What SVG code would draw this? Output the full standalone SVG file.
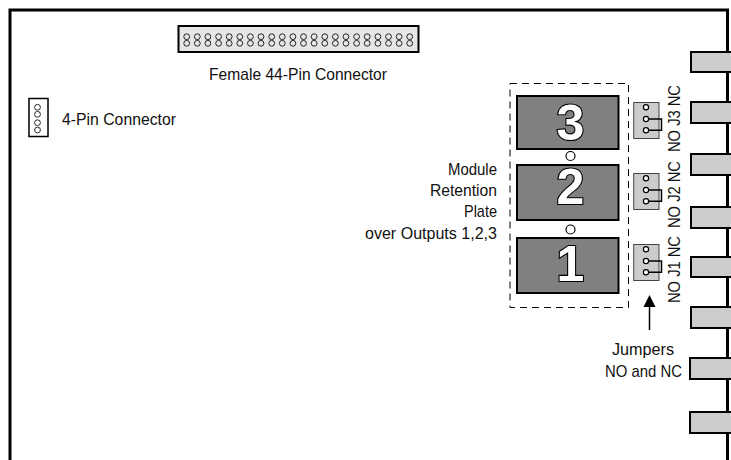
<svg xmlns="http://www.w3.org/2000/svg" width="731" height="460" viewBox="0 0 731 460">
<style>
text{font-family:"Liberation Sans",Arial,sans-serif;font-size:17px;fill:#111}
.tab{fill:#ccc;stroke:#000;stroke-width:2}
.pin{fill:#fff;stroke:#111;stroke-width:.9}
.pin2{fill:#e6e6e6;stroke:#111;stroke-width:.9}
.rel{fill:#808080;stroke:#000;stroke-width:2}
text.num{font-weight:bold;font-size:50px;fill:#fff;stroke:#000;stroke-width:2.2;paint-order:stroke;text-anchor:middle}
.jb{fill:#ccc;stroke:#444;stroke-width:1}
.jw{fill:none;stroke:#000;stroke-width:1.5}
.hole{fill:#fff;stroke:#000;stroke-width:1.2}
</style>
<defs>
<g id="col"><circle class="pin2" cx="0" cy="0" r="2.9"/><circle class="pin2" cx="0" cy="6.6" r="2.9"/></g>
<g id="jump"><rect class="jb" x="633.7" y="102.5" width="25.3" height="36"/><path class="jw" d="M646 119H661.5V130.3H646"/><circle class="hole" cx="646" cy="107.3" r="2.6"/><circle class="hole" cx="646" cy="119" r="2.6"/><circle class="hole" cx="646" cy="130.3" r="2.6"/></g>
</defs>
<rect width="731" height="460" fill="#fff"/>
<g id="board"><path d="M10 460V10H727.5V460" fill="none" stroke="#000" stroke-width="3"/></g>
<g id="tabs">
<path class="tab" d="M732 52H691V72H732Z"/>
<path class="tab" d="M732 102H691V123H732Z"/>
<path class="tab" d="M732 154H691V175H732Z"/>
<path class="tab" d="M732 207H691V228H732Z"/>
<path class="tab" d="M732 257H691V277H732Z"/>
<path class="tab" d="M732 307H691V328H732Z"/>
<path class="tab" d="M732 358H690V379H732Z"/>
<path class="tab" d="M732 412H690V433H732Z"/>
</g>
<g id="connector-44">
<rect x="178.5" y="26" width="240" height="26" fill="#e6e6e6" stroke="#000" stroke-width="2"/>
<g transform="translate(0 36.7)">
<use href="#col" x="186.7"/><use href="#col" x="197.3"/><use href="#col" x="207.9"/><use href="#col" x="218.6"/><use href="#col" x="229.2"/><use href="#col" x="239.8"/><use href="#col" x="250.4"/><use href="#col" x="261"/><use href="#col" x="271.7"/><use href="#col" x="282.3"/><use href="#col" x="292.9"/><use href="#col" x="303.5"/><use href="#col" x="314.1"/><use href="#col" x="324.8"/><use href="#col" x="335.4"/><use href="#col" x="346"/><use href="#col" x="356.6"/><use href="#col" x="367.2"/><use href="#col" x="377.9"/><use href="#col" x="388.5"/><use href="#col" x="399.1"/><use href="#col" x="409.7"/>
</g>
<text x="209" y="80" textLength="178" lengthAdjust="spacingAndGlyphs">Female 44-Pin Connector</text>
</g>
<g id="connector-4">
<rect x="29" y="98.5" width="19" height="38" fill="#fff" stroke="#000" stroke-width="1.5"/>
<circle class="pin" cx="37.5" cy="107.3" r="2.9"/><circle class="pin" cx="37.5" cy="114.3" r="2.9"/><circle class="pin" cx="37.5" cy="122.7" r="2.9"/><circle class="pin" cx="37.5" cy="130" r="2.9"/>
<text x="62" y="125" textLength="114" lengthAdjust="spacingAndGlyphs">4-Pin Connector</text>
</g>
<g id="retention-plate">
<rect x="510" y="83.5" width="118.5" height="224" fill="none" stroke="#000" stroke-width="1" stroke-dasharray="7 5"/>
<circle class="hole" cx="570.5" cy="156" r="4.5"/>
<circle class="hole" cx="570.5" cy="229.5" r="4.5"/>
<text x="448" y="175" textLength="49" lengthAdjust="spacingAndGlyphs">Module</text>
<text x="430" y="196" textLength="67" lengthAdjust="spacingAndGlyphs">Retention</text>
<text x="464" y="217" textLength="33" lengthAdjust="spacingAndGlyphs">Plate</text>
<text x="365" y="239" textLength="132" lengthAdjust="spacingAndGlyphs">over Outputs 1,2,3</text>
</g>
<g id="output-3"><rect class="rel" x="517" y="96" width="101.5" height="53"/><text class="num" x="570.5" y="140">3</text></g>
<g id="output-2"><rect class="rel" x="517" y="165" width="101.5" height="55"/><text class="num" x="570.5" y="204">2</text></g>
<g id="output-1"><rect class="rel" x="517" y="238" width="101.5" height="55"/><text class="num" x="570.5" y="281">1</text></g>
<g id="jumper-3"><use href="#jump"/><text transform="translate(680 152) rotate(-90)" textLength="67" lengthAdjust="spacingAndGlyphs">NO J3 NC</text></g>
<g id="jumper-2"><use href="#jump" y="71"/><text transform="translate(680 228) rotate(-90)" textLength="67" lengthAdjust="spacingAndGlyphs">NO J2 NC</text></g>
<g id="jumper-1"><use href="#jump" y="142"/><text transform="translate(680 303) rotate(-90)" textLength="67" lengthAdjust="spacingAndGlyphs">NO J1 NC</text></g>
<g id="jumpers-label">
<text x="612" y="355" textLength="62" lengthAdjust="spacingAndGlyphs">Jumpers</text>
<text x="605" y="377" textLength="77" lengthAdjust="spacingAndGlyphs">NO and NC</text>
</g>
<g id="connectors">
<path d="M649.5 330V305" fill="none" stroke="#000" stroke-width="1.5"/>
<path d="M649.5 295L655.5 307H643.5Z" fill="#000"/>
</g>
</svg>
